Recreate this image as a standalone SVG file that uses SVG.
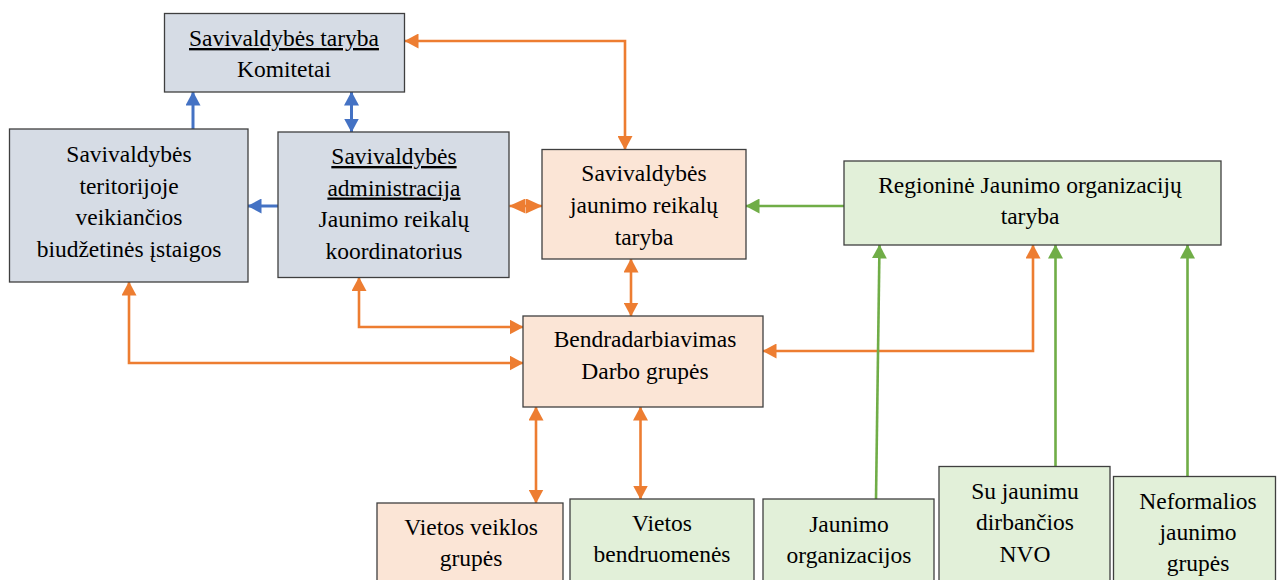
<svg xmlns="http://www.w3.org/2000/svg" width="1277" height="580" viewBox="0 0 1277 580">
<style>
.box{stroke:#3f3f3f;stroke-width:1.3}
.gray{fill:#d6dce5}
.peach{fill:#fbe5d6}
.green{fill:#e2f0d9}
text{font-family:"Liberation Serif","Times New Roman",serif;font-size:23.5px;fill:#000;text-anchor:middle}
.u{text-decoration:underline}
.c{fill:none}
.o{stroke:#ed7d31;stroke-width:2.6}
.b{stroke:#4472c4;stroke-width:3}
.g{stroke:#70ad47;stroke-width:2.6}
</style>
<defs>
<marker id="ao" markerUnits="userSpaceOnUse" viewBox="0 0 14 15" refX="13.5" refY="7.5" markerWidth="14" markerHeight="15" orient="auto-start-reverse"><path d="M0,0 L14,7.5 L0,15 Z" fill="#ed7d31"/></marker>
<marker id="aod" markerUnits="userSpaceOnUse" viewBox="0 0 16.5 15" refX="16" refY="7.5" markerWidth="16.5" markerHeight="15" orient="auto-start-reverse"><path d="M0,0 L16.5,7.5 L0,15 Z" fill="#ed7d31"/></marker>
<marker id="ab" markerUnits="userSpaceOnUse" viewBox="0 0 14 15" refX="13.5" refY="7.5" markerWidth="14" markerHeight="15" orient="auto-start-reverse"><path d="M0,0 L14,7.5 L0,15 Z" fill="#4472c4"/></marker>
<marker id="ag" markerUnits="userSpaceOnUse" viewBox="0 0 14 15" refX="13.5" refY="7.5" markerWidth="14" markerHeight="15" orient="auto-start-reverse"><path d="M0,0 L14,7.5 L0,15 Z" fill="#70ad47"/></marker>
</defs>

<g id="connectors" class="c">
<path class="b c" d="M193,129 V92" marker-end="url(#ab)"/>
<path class="b c" d="M351.5,92 V132" marker-start="url(#ab)" marker-end="url(#ab)"/>
<path class="b c" d="M278,206 H248" marker-end="url(#ab)"/>
<path class="o c" d="M405,41 H625 V149.5" marker-start="url(#ao)" marker-end="url(#ao)"/>
<path class="o c" d="M509.5,206 H542" marker-start="url(#aod)" marker-end="url(#aod)"/>
<path class="o c" d="M631,259 V316" marker-start="url(#ao)" marker-end="url(#ao)"/>
<path class="o c" d="M129,282 V363 H523" marker-start="url(#ao)" marker-end="url(#ao)"/>
<path class="o c" d="M359,277.5 V327 H523" marker-start="url(#ao)" marker-end="url(#ao)"/>
<path class="o c" d="M1033,245 V351 H763" marker-start="url(#ao)" marker-end="url(#ao)"/>
<path class="o c" d="M536,407 V503" marker-start="url(#ao)" marker-end="url(#ao)"/>
<path class="o c" d="M640.5,407 V499" marker-start="url(#ao)" marker-end="url(#ao)"/>
<path class="g c" d="M844,206 H746" marker-end="url(#ag)"/>
<path class="g c" d="M876,499 L879.5,245" marker-end="url(#ag)"/>
<path class="g c" d="M1055.5,467 V245" marker-end="url(#ag)"/>
<path class="g c" d="M1187.5,477 V245" marker-end="url(#ag)"/>
</g>

<g id="taryba">
<rect class="box gray" x="164.5" y="13.5" width="240" height="78.5"/>
<text x="284" y="46"><tspan class="u">Savivaldybės taryba</tspan></text>
<text x="284" y="77">Komitetai</text>
</g>

<g id="istaigos">
<rect class="box gray" x="9.5" y="129" width="238.5" height="153"/>
<text x="129" y="162">Savivaldybės</text>
<text x="129" y="193.5">teritorijoje</text>
<text x="129" y="225">veikiančios</text>
<text x="129" y="256.5">biudžetinės įstaigos</text>
</g>

<g id="administracija">
<rect class="box gray" x="278" y="132" width="231" height="145.5"/>
<text x="394" y="164"><tspan class="u">Savivaldybės</tspan></text>
<text x="394" y="195.5"><tspan class="u">administracija</tspan></text>
<text x="394" y="227">Jaunimo reikalų</text>
<text x="394" y="258.5">koordinatorius</text>
</g>

<g id="jrt">
<rect class="box peach" x="542" y="149.5" width="204" height="109.5"/>
<text x="644" y="181">Savivaldybės</text>
<text x="644" y="213">jaunimo reikalų</text>
<text x="644" y="245">taryba</text>
</g>

<g id="regionine">
<rect class="box green" x="844" y="161" width="377" height="84"/>
<text x="1030" y="193">Regioninė Jaunimo organizacijų</text>
<text x="1030" y="224">taryba</text>
</g>

<g id="bendradarbiavimas">
<rect class="box peach" x="523" y="316" width="240" height="91"/>
<text x="645" y="347">Bendradarbiavimas</text>
<text x="645" y="378.5">Darbo grupės</text>
</g>

<g id="vvg">
<rect class="box peach" x="377" y="503" width="186" height="90"/>
<text x="471" y="535">Vietos veiklos</text>
<text x="471" y="566">grupės</text>
</g>

<g id="bendruomenes">
<rect class="box green" x="570" y="499" width="184" height="94"/>
<text x="662" y="530.5">Vietos</text>
<text x="662" y="562">bendruomenės</text>
</g>

<g id="jaunimo-org">
<rect class="box green" x="763" y="499" width="171" height="94"/>
<text x="849" y="531.5">Jaunimo</text>
<text x="849" y="563">organizacijos</text>
</g>

<g id="nvo">
<rect class="box green" x="939" y="466.5" width="171" height="126"/>
<text x="1025" y="498.5">Su jaunimu</text>
<text x="1025" y="530">dirbančios</text>
<text x="1025" y="561.5">NVO</text>
</g>

<g id="neformalios">
<rect class="box green" x="1113.5" y="476.5" width="162" height="116"/>
<text x="1198" y="508.5">Neformalios</text>
<text x="1198" y="540">jaunimo</text>
<text x="1198" y="571">grupės</text>
</g>
</svg>
